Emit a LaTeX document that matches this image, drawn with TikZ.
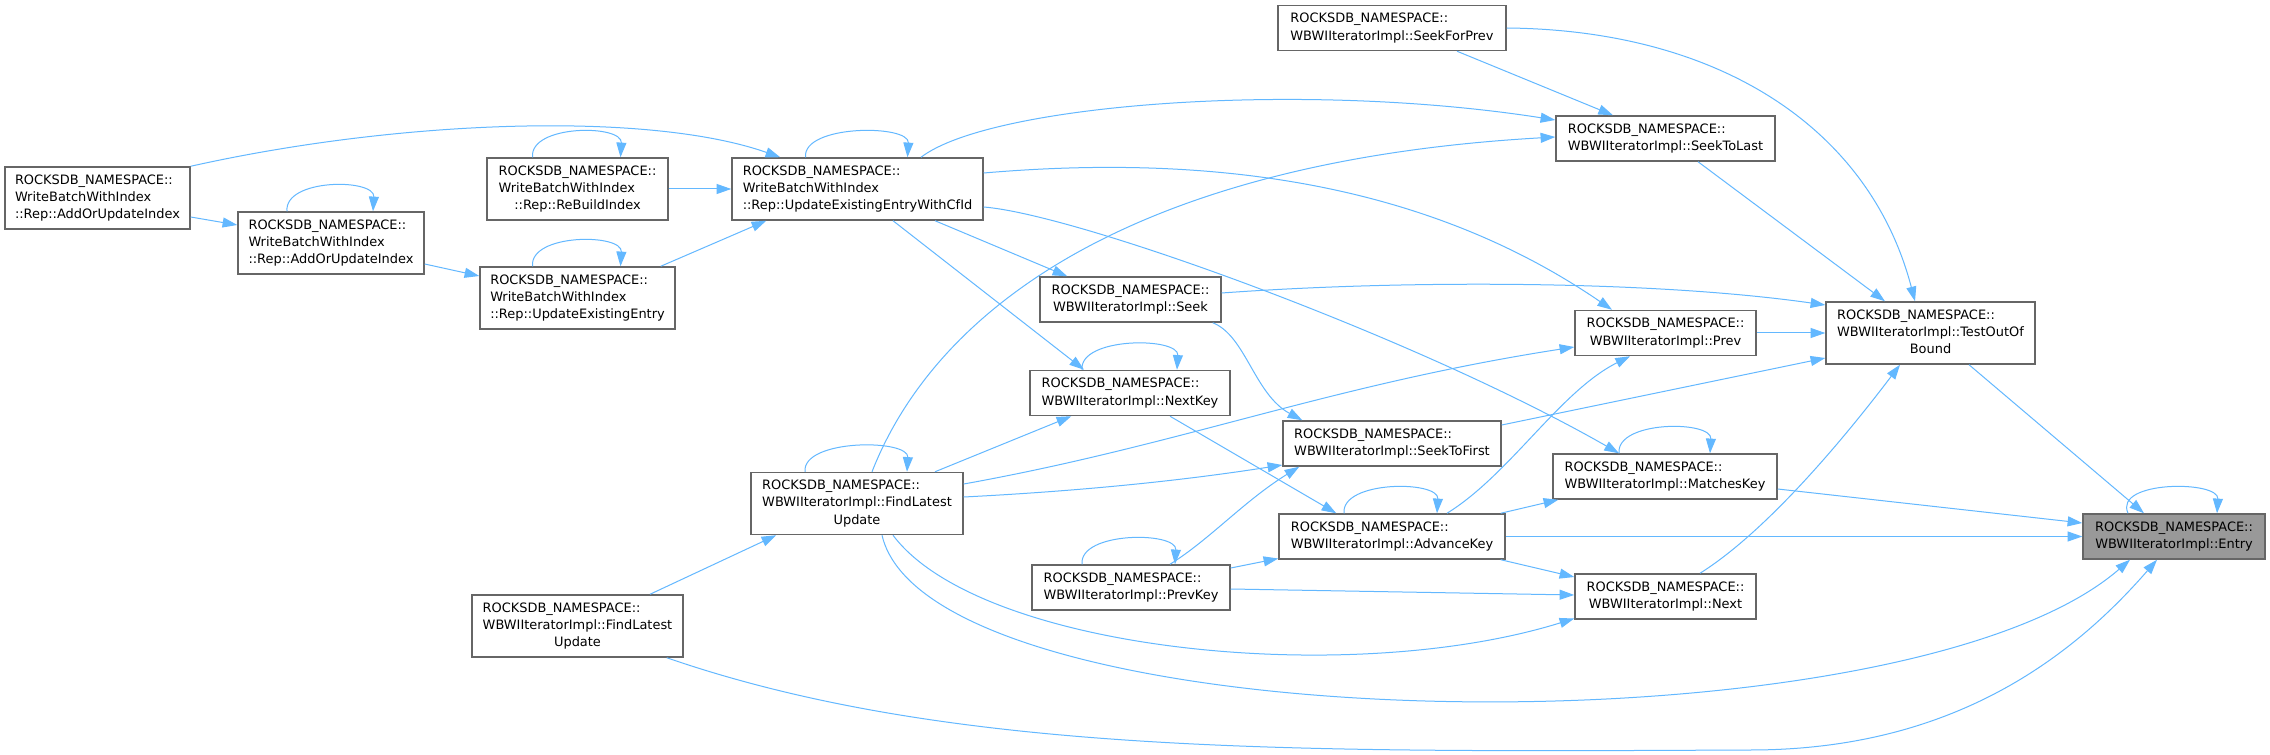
\documentclass[tikz,border=0pt]{standalone}
\usepackage{fontspec}
\setmainfont{DejaVu Sans}
\usetikzlibrary{arrows.meta,calc}
\definecolor{callblue}{HTML}{63B8FF}
\definecolor{boxline}{HTML}{666666}
\definecolor{focusfill}{HTML}{999999}
\newcommand{\rns}{ROCKSDB\_NAMESPACE::}
\newcommand{\lbltwo}[1]{\begin{tabular}{@{}l@{}}\rns\\\multicolumn{1}{@{}c@{}}{#1}\end{tabular}}
\newcommand{\lblthree}[2]{\begin{tabular}{@{}l@{}}\rns\\#1\\\multicolumn{1}{@{}c@{}}{#2}\end{tabular}}
\begin{document}
\begin{tikzpicture}[
  x=0.75pt,y=-0.75pt,
  font=\fontsize{9.7}{13}\selectfont,
  >={Triangle[length=11pt,width=7.5pt]},
  call/.style={->,draw=callblue,line width=0.75pt},
  fnbox/.style={draw=boxline,fill=white,line width=1.1pt,inner xsep=2pt,
                inner ysep=3.75pt,minimum height=33.75pt,text=black},
  focus/.style={fnbox,fill=focusfill}
]

\fill[white] (0,0) rectangle (2270,755);
\useasboundingbox (0,0) rectangle (2270,755);

% WriteBatchWithIndex side
\node[fnbox,minimum width=138.75pt] (aoui) at (97.5,198)
  {\lblthree{WriteBatchWithIndex}{::Rep::AddOrUpdateIndex}};
\node[fnbox,minimum width=139.5pt] (raoui) at (331,243)
  {\lblthree{WriteBatchWithIndex}{::Rep::AddOrUpdateIndex}};
\node[fnbox,minimum width=135.75pt] (rbi) at (577.5,189)
  {\lblthree{WriteBatchWithIndex}{::Rep::ReBuildIndex}};
\node[fnbox,minimum width=146.25pt] (uee) at (577.5,298)
  {\lblthree{WriteBatchWithIndex}{::Rep::UpdateExistingEntry}};
\node[fnbox,minimum width=188.25pt] (ueewc) at (857.5,189)
  {\lblthree{WriteBatchWithIndex}{::Rep::UpdateExistingEntryWithCfId}};
\node[fnbox,minimum width=158.25pt] (flu2) at (577.5,626)
  {\lblthree{WBWIIteratorImpl::FindLatest}{Update}};
\node[fnbox,minimum width=159pt] (flu) at (857,503.5)
  {\lblthree{WBWIIteratorImpl::FindLatest}{Update}};

% iterator methods
\node[fnbox,minimum width=135.75pt] (seek) at (1130.5,299.5) {\lbltwo{WBWIIteratorImpl::Seek}};
\node[fnbox,minimum width=150pt] (nk) at (1130,393) {\lbltwo{WBWIIteratorImpl::NextKey}};
\node[fnbox,minimum width=148.5pt] (pk) at (1131,587.5) {\lbltwo{WBWIIteratorImpl::PrevKey}};
\node[fnbox,minimum width=171pt] (sfp) at (1392,28) {\lbltwo{WBWIIteratorImpl::SeekForPrev}};
\node[fnbox,minimum width=163.5pt] (stf) at (1392,443.5) {\lbltwo{WBWIIteratorImpl::SeekToFirst}};
\node[fnbox,minimum width=169.5pt] (ak) at (1392,536.5) {\lbltwo{WBWIIteratorImpl::AdvanceKey}};
\node[fnbox,minimum width=164.25pt] (stl) at (1665.5,138.5) {\lbltwo{WBWIIteratorImpl::SeekToLast}};
\node[fnbox,minimum width=135.75pt] (prev) at (1665.5,333) {\lbltwo{WBWIIteratorImpl::Prev}};
\node[fnbox,minimum width=168pt] (mk) at (1665,476.5) {\lbltwo{WBWIIteratorImpl::MatchesKey}};
\node[fnbox,minimum width=135.75pt] (nxt) at (1665.5,596.5) {\lbltwo{WBWIIteratorImpl::Next}};
\node[fnbox,minimum width=156.75pt] (toob) at (1930.5,333)
  {\lblthree{WBWIIteratorImpl::TestOutOf}{Bound}};
\node[focus,minimum width=136.5pt] (entry) at (2174,536.5) {\lbltwo{WBWIIteratorImpl::Entry}};

% self calls
\draw[call] ($(raoui.north)+(-44,0)$) .. controls +(-3,-33) and +(2,-33) .. ($(raoui.north)+(42,0)$);
\draw[call] ($(rbi.north)+(-45,0)$) .. controls +(-3,-33) and +(2,-33) .. ($(rbi.north)+(43,0)$);
\draw[call] ($(uee.north)+(-45,0)$) .. controls +(-3,-33) and +(2,-33) .. ($(uee.north)+(43,0)$);
\draw[call] ($(ueewc.north)+(-52,0)$) .. controls +(-3,-33) and +(2,-33) .. ($(ueewc.north)+(50,0)$);
\draw[call] ($(flu.north)+(-52,0)$) .. controls +(-3,-33) and +(2,-33) .. ($(flu.north)+(50,0)$);
\draw[call] ($(nk.north)+(-48,0)$) .. controls +(-3,-33) and +(2,-33) .. ($(nk.north)+(47,0)$);
\draw[call] ($(pk.north)+(-49,0)$) .. controls +(-3,-33) and +(2,-33) .. ($(pk.north)+(44,0)$);
\draw[call] ($(ak.north)+(-48,0)$) .. controls +(-3,-33) and +(2,-33) .. ($(ak.north)+(45,0)$);
\draw[call] ($(mk.north)+(-46,0)$) .. controls +(-3,-33) and +(2,-33) .. ($(mk.north)+(45,0)$);
\draw[call] ($(entry.north)+(-46,0)$) .. controls +(-15,-33) and +(2,-33) .. ($(entry.north)+(43,0)$);

% WriteBatchWithIndex calls
\draw[call] (aoui.north east) .. controls +(210,-47) and +(-131,-46) .. ($(ueewc.north west)+(49,0)$);
\draw[call] ($(aoui.east)+(0,19)$) -- ($(raoui.west)+(0,-18)$);
\draw[call] ($(raoui.east)+(0,21)$) -- ($(uee.west)+(0,-22)$);
\draw[call] ($(uee.north east)+(-15,0)$) -- ($(ueewc.south west)+(35,0)$);
\draw[call] (rbi.east) -- (ueewc.west);
\draw[call] ($(ueewc.north)+(63.5,0)$) .. controls +(69,-53) and +(-256,-40) .. ($(stl.west)+(0,-18.5)$);
\draw[call] ($(ueewc.east)+(0,-16)$) .. controls +(267,-23) and +(-162,-111) .. ($(prev.north)+(-53.5,0)$);
\draw[call] ($(ueewc.east)+(0,18)$) .. controls +(97,8) and +(-199,-114) .. ($(mk.north)+(-46,0)$);
\draw[call] ($(ueewc.south)+(77.5,0)$) -- ($(seek.north west)+(28,0)$);
\draw[call] ($(ueewc.south)+(35.5,0)$) -- ($(nk.north)+(-46,0)$);

% FindLatestUpdate calls
\draw[call] ($(flu2.north)+(72.5,0)$) -- ($(flu.south west)+(26,0)$);
\draw[call] ($(flu2.south east)+(-17,0)$) .. controls +(284,98) and +(-450,2) .. (1750,750)
  .. controls +(200,0) and +(-87,100) .. ($(entry.south)+(-17,0)$);
\draw[call] ($(flu.north)+(15,0)$) .. controls +(68,-173) and +(-406,23) .. ($(stl.west)+(0,-1.5)$);
\draw[call] ($(flu.north)+(78,0)$) -- ($(nk.south west)+(42,0)$);
\draw[call] ($(flu.east)+(0,-19.5)$) .. controls +(217,-39) and +(-245,38) .. ($(prev.west)+(0,14)$);
\draw[call] ($(flu.east)+(0,-6.5)$) .. controls +(137,-7) and +(-83,13) .. ($(stf.west)+(0,21.5)$);
\draw[call] ($(flu.south)+(36,0)$) .. controls +(87,116) and +(-225,70) .. ($(nxt.west)+(0,22)$);
\draw[call] ($(flu.south)+(25,0)$) .. controls +(48,207) and +(-230,200) .. ($(entry.south)+(-44,0)$);

% iterator calls
\draw[call] ($(seek.south east)+(-9,0)$) .. controls +(33,13) and +(-48,-26) .. ($(stf.north west)+(20,0)$);
\draw[call] ($(seek.east)+(0,-6.5)$) .. controls +(179,-13) and +(-176,-25) .. ($(toob.west)+(0,-28)$);
\draw[call] ($(nk.south)+(40,0)$) -- ($(ak.north west)+(58,0)$);
\draw[call] ($(pk.north)+(39,0)$) .. controls +(40,-25) and +(-55,34) .. ($(stf.south west)+(17,0)$);
\draw[call] ($(pk.east)+(0,-19.5)$) -- ($(ak.west)+(0,22)$);
\draw[call] ($(pk.east)+(0,1.5)$) -- ($(nxt.west)+(0,-1.5)$);
\draw[call] ($(sfp.south)+(65,0)$) -- ($(stl.north)+(-52.5,0)$);
\draw[call] (sfp.east) .. controls +(214,2) and +(-45,-172) .. ($(toob.north)+(-15.5,0)$);
\draw[call] ($(stl.south)+(32.5,0)$) -- ($(toob.north)+(-45.5,0)$);
\draw[call] ($(stf.east)+(0,-18.5)$) -- ($(toob.west)+(0,25)$);
\draw[call] (ak.east) -- (entry.west);
\draw[call] ($(ak.north east)+(-5,0)$) -- ($(mk.south west)+(6,0)$);
\draw[call] ($(ak.north)+(55,0)$) .. controls +(63,-39) and +(-70,35) .. ($(prev.south)+(-35.5,0)$);
\draw[call] ($(ak.south east)+(-5,0)$) -- ($(nxt.west)+(0,-19.5)$);
\draw[call] (prev.east) -- (toob.west);
\draw[call] ($(nxt.north)+(34.5,0)$) .. controls +(70,-44) and +(-50,66) .. ($(toob.south)+(-30.5,0)$);
\draw[call] ($(mk.east)+(0,12.5)$) -- ($(entry.west)+(0,-13.5)$);
\draw[call] ($(toob.south)+(38.5,0)$) -- ($(entry.north)+(-30,0)$);

\end{tikzpicture}
\end{document}
